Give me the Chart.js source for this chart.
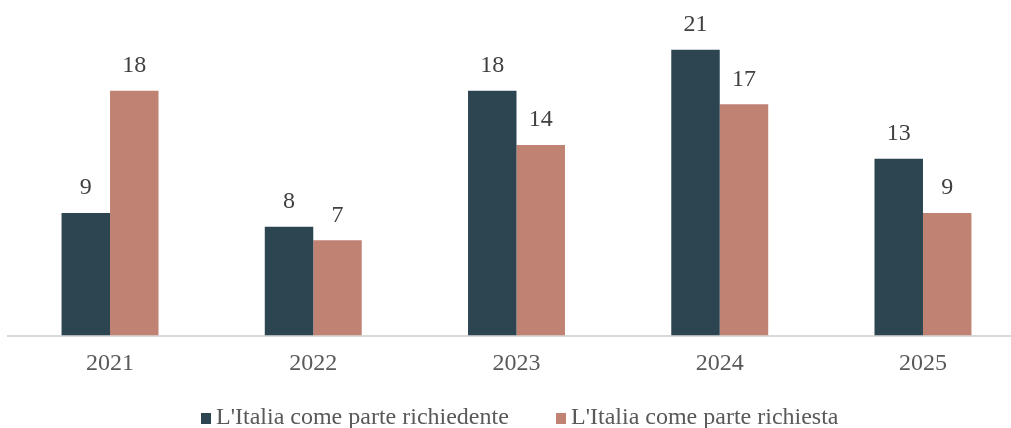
<!DOCTYPE html>
<html>
<head>
<meta charset="utf-8">
<script src="https://cdn.jsdelivr.net/npm/chart.js@4.4.1/dist/chart.umd.min.js"></script>
<style>
    html, body { margin: 0; padding: 0; background: #fff; overflow: hidden; }
    #wrap { position: relative; width: 1011px; height: 428px; overflow: hidden; }
    #chart { position: absolute; left: 0; top: 0; }
    #legend {
        position: absolute; left: 0; top: 402px; width: 1011px;
        font-family: 'Liberation Serif', 'Times New Roman', serif;
        font-size: 24px; color: #595959; line-height: 28px;
    }
    .item { position: absolute; top: 0; white-space: nowrap; }
    .box { display: inline-block; width: 10px; height: 11px; margin-right: 5px; vertical-align: 0px; }
</style>
</head>
<body>
<div id="wrap">
    <canvas id="chart" width="1030" height="428"></canvas>
    <div id="legend"></div>
</div>
<script>
    // Chart values
    const years = ['2021', '2022', '2023', '2024', '2025'];
    const richiedente = [9, 8, 18, 21, 13];
    const richiesta = [18, 7, 14, 17, 9];
    const seriesNames = ["L'Italia come parte richiedente", "L'Italia come parte richiesta"];
    const seriesColors = ['#2c4551', '#c08273'];

    const FONT = "'Liberation Serif', 'Times New Roman', serif";

    // Value labels above the bars
    const valueLabels = {
        id: 'valueLabels',
        afterDatasetsDraw(chart) {
            const ctx = chart.ctx;
            ctx.save();
            ctx.font = '24px ' + FONT;
            ctx.fillStyle = '#404040';
            ctx.textAlign = 'center';
            ctx.textBaseline = 'middle';
            chart.data.datasets.forEach((ds, i) => {
                chart.getDatasetMeta(i).data.forEach((bar, j) => {
                    ctx.fillText(String(ds.data[j]), bar.x, bar.y - 25);
                });
            });
            ctx.restore();
        }
    };

    new Chart(document.getElementById('chart'), {
        type: 'bar',
        data: {
            labels: years,
            datasets: [
                { label: seriesNames[0], data: richiedente, backgroundColor: seriesColors[0] },
                { label: seriesNames[1], data: richiesta, backgroundColor: seriesColors[1] }
            ]
        },
        options: {
            responsive: false,
            animation: false,
            layout: { padding: { left: 8.4, right: 5.4, top: 9, bottom: 0 } },
            datasets: { bar: { categoryPercentage: 0.477, barPercentage: 1 } },
            plugins: { legend: { display: false }, tooltip: { enabled: false } },
            scales: {
                x: {
                    grid: { display: false, drawTicks: false },
                    border: { display: true, color: '#d9d9d9', width: 2 },
                    ticks: { color: '#595959', font: { family: FONT, size: 24 }, padding: 14 },
                    afterFit(axis) { axis.height = 92.5; }
                },
                y: {
                    display: false,
                    min: 0,
                    max: 24
                }
            }
        },
        plugins: [valueLabels]
    });

    // Legend as plain text under the chart
    const legend = document.getElementById('legend');
    const lefts = [201, 556];
    seriesNames.forEach((name, i) => {
        const item = document.createElement('span');
        item.className = 'item';
        item.style.left = lefts[i] + 'px';
        item.innerHTML = '<span class="box" style="background:' + seriesColors[i] + '"></span>' + name;
        legend.appendChild(item);
    });
</script>
</body>
</html>
